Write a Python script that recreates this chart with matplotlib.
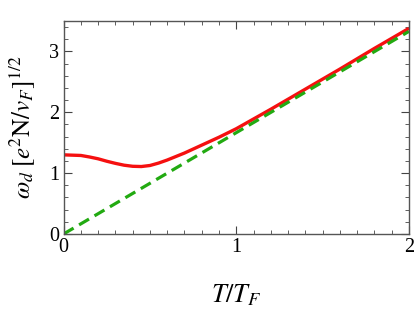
import numpy as np
import matplotlib
matplotlib.use('Agg')
import matplotlib.pyplot as plt

# red curve
T_red = [0.0, 0.1, 0.15, 0.2, 0.25, 0.3, 0.35, 0.4, 0.45, 0.5, 0.55, 0.6, 0.7, 0.8, 0.9,
         1.0, 1.2, 1.4, 1.6, 1.8, 2.0]
w_red = [1.30, 1.29, 1.265, 1.235, 1.195, 1.16, 1.13, 1.112, 1.108, 1.125, 1.165, 1.215,
         1.33, 1.46, 1.59, 1.73, 2.05, 2.38, 2.71, 3.05, 3.38]

# green asymptote
T_green = [0.0, 2.0]
w_green = [0.0, 3.33]

plt.rcParams['font.family'] = 'Liberation Serif'
plt.rcParams['mathtext.fontset'] = 'stix'

fig = plt.figure(figsize=(4.16, 3.14), dpi=100)
ax = fig.add_axes([0.153, 0.255, 0.83, 0.678])

ax.plot(T_red, w_red, color='#f51010', lw=2.4, solid_capstyle='butt')
ax.plot(T_green, w_green, color='#22aa11', lw=2.3, dashes=(3.6, 2.0))

ax.set_xlim(0, 2)
ax.set_ylim(0, 3.5)
ax.set_xticks([0, 1, 2])
ax.set_yticks([0, 1, 2, 3])
ax.set_xticks(np.arange(0, 2.01, 0.1), minor=True)
ax.set_yticks(np.arange(0, 3.51, 0.2), minor=True)
ax.tick_params(which='both', direction='in', top=True, right=True, color='#444444',
               labelsize=14.5)
ax.tick_params(which='major', length=6, width=0.8, pad=3)
ax.tick_params(which='minor', length=3, width=0.6)
for s in ax.spines.values():
    s.set_color('#555555')
    s.set_linewidth(1.0)

ax.set_xlabel(r'$T/T_F$', fontsize=19, labelpad=18)
ax.set_ylabel(r'$\omega_d\;[e^2\mathrm{N}/v_F]^{1/2}$', fontsize=18, labelpad=8)

fig.savefig('out.png', dpi=100)
